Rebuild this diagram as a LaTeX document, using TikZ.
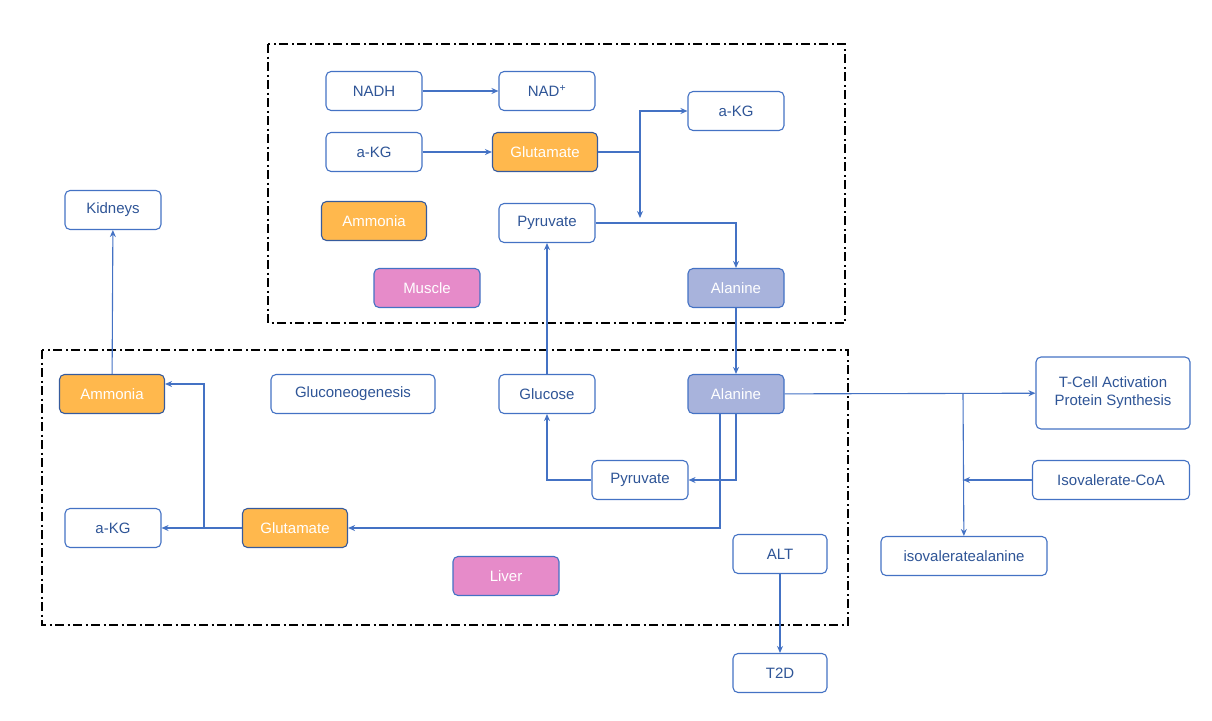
\documentclass[tikz,border=0pt]{standalone}
\usepackage{fontspec}
\setmainfont{Liberation Sans}
\usetikzlibrary{arrows.meta}
\definecolor{bl}{HTML}{4472C4}
\definecolor{tx}{HTML}{2F5597}
\definecolor{org}{HTML}{FFB84D}
\definecolor{pur}{HTML}{A8B3DC}
\definecolor{pnk}{HTML}{E68BC9}
\begin{document}
\begin{tikzpicture}[x=1pt,y=-1pt,
 b/.style={draw=bl,line width=1.1pt,rounded corners=5pt,fill=white,text=tx,minimum width=96pt,minimum height=39pt,font=\fontsize{15}{18}\selectfont,align=center,inner sep=2pt},
 o/.style={b,fill=org,text=white,draw=bl!80!black},
 p/.style={b,fill=pur,text=white},
 k/.style={b,fill=pnk,text=white},
 a/.style={draw=bl,line width=1.1pt,-{Stealth[length=7pt,width=6pt]}},
 l/.style={draw=bl,line width=1.1pt},
 box/.style={draw=black,line width=1.8pt,dash pattern=on 9pt off 3.5pt on 2pt off 3.5pt}]
\useasboundingbox (0,0) rectangle (1212,720);
\draw[box] (268,44) rectangle (845,323);
\draw[box] (42,350) rectangle (848,625);
\node[b] (nadh) at (374,91) {NADH};
\node[b] (nad) at (547,91) {NAD\textsuperscript{+}};
\node[b] (akg1) at (736,111) {a-KG};
\node[b] (akg0) at (374,152) {a-KG};
\node[o,minimum width=105pt] (glu1) at (545,152) {Glutamate};
\node[o,minimum width=105pt] (amm1) at (374,221) {Ammonia};
\node[b] (pyr1) at (547,223) {Pyruvate};
\node[k,minimum width=106pt] (mus) at (427,288) {Muscle};
\node[p] (ala1) at (736,288) {Alanine};
\node[b] (kid) at (113,210) {Kidneys};
\node[o,minimum width=105pt] (amm2) at (112,394) {Ammonia};
\node[b,minimum width=164pt] (gng) at (353,394) {Gluconeogenesis};
\node[b] (glc) at (547,394) {Glucose};
\node[p] (ala2) at (736,394) {Alanine};
\node[b,minimum width=154pt,minimum height=72pt] (tcell) at (1113,393) {T-Cell Activation\\Protein Synthesis};
\node[b] (pyr2) at (640,480) {Pyruvate};
\node[b,minimum width=157pt] (iso) at (1111,480) {Isovalerate-CoA};
\node[b] (akg2) at (113,528) {a-KG};
\node[o,minimum width=105pt] (glu2) at (295,528) {Glutamate};
\node[b,minimum width=94pt] (alt) at (780,554) {ALT};
\node[b,minimum width=166pt] (isoa) at (964,556) {isovaleratealanine};
\node[k,minimum width=106pt] (liv) at (506,576) {Liver};
\node[b,minimum width=94pt] (t2d) at (780,673) {T2D};
\coordinate (j1) at (640,152);
\coordinate (j2) at (963,394);
\coordinate (j3) at (204,528);
\draw[a] (nadh) -- (nad);
\draw[a] (akg0) -- (glu1);
\draw[l] (glu1) -- (j1);
\draw[a] (j1) |- (akg1);
\draw[a] (j1) -- (640,218);
\draw[a] (pyr1) -| (ala1);
\draw[a] (ala1) -- (ala2);
\draw[a] (glc) -- (pyr1);
\draw[a] (ala2) -- (tcell);
\draw[a] (j2) -- (isoa);
\draw[a] (iso) -- (963,480);
\draw[a] (ala2.south) |- (pyr2);
\draw[a] (pyr2) -| (glc);
\draw[a] (720,414) |- (glu2);
\draw[a] (glu2) -- (akg2);
\draw[a] (j3) |- (amm2.east |- 0,384);
\draw[a] (amm2) -- (kid);
\draw[a] (alt) -- (t2d);
\end{tikzpicture}
\end{document}
